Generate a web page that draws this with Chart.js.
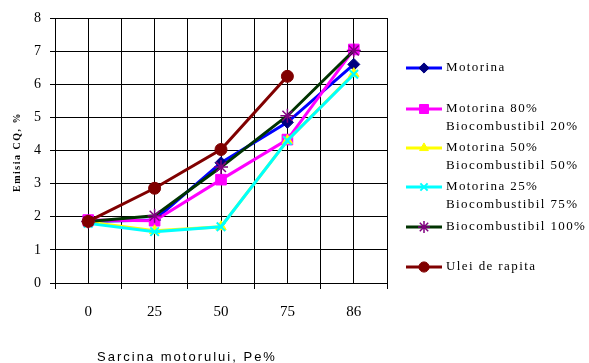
<!DOCTYPE html>
<html>
<head>
<meta charset="utf-8">
<script src="https://cdn.jsdelivr.net/npm/chart.js@4"></script>
<style>
    html, body { margin: 0; padding: 0; background: #ffffff; }
    #wrap { width: 589px; height: 363px; }
</style>
</head>
<body>
<div id="wrap"><canvas id="coChart" width="589" height="363"></canvas></div>
<script>
// Data
const categories = ['0', '25', '50', '75', '86'];
const motorina = [1.86, 1.9, 3.63, 4.85, 6.6];
const motorina80 = [1.9, 1.88, 3.12, 4.33, 7.05];
const motorina50 = [1.84, 1.58, 1.7, 4.3, 6.32];
const motorina25 = [1.8, 1.55, 1.7, 4.3, 6.3];
const bio100 = [1.86, 2.03, 3.5, 5.05, 7.02];
const uleiRapita = [1.86, 2.86, 4.03, 6.24, null];
const yTicks = [0, 1, 2, 3, 4, 5, 6, 7, 8];

const seriesNames = [
    ['Motorina'],
    ['Motorina 80%', 'Biocombustibil 20%'],
    ['Motorina 50%', 'Biocombustibil 50%'],
    ['Motorina 25%', 'Biocombustibil 75%'],
    ['Biocombustibil 100%'],
    ['Ulei de rapita']
];

function toPoints(values) {
    return values.map((v, i) => ({ x: i, y: v }));
}

const serifFont = '"Liberation Serif", "Times New Roman", serif';

// legend + axis titles drawn by hand (multi-line labels, Excel style)
const extraText = {
    id: 'extraText',
    afterDraw(chart) {
        const ctx = chart.ctx;
        const area = chart.chartArea;
        ctx.save();

        // y axis title
        ctx.fillStyle = '#000';
        ctx.font = 'bold 10px ' + serifFont;
        ctx.letterSpacing = '1.5px';
        ctx.textAlign = 'center';
        ctx.textBaseline = 'middle';
        ctx.translate(17, 152);
        ctx.rotate(-Math.PI / 2);
        ctx.fillText('Emisia CQ, %', 0, 0);
        ctx.setTransform(1, 0, 0, 1, 0, 0);

        // x axis title
        ctx.font = '13px "Liberation Sans", Arial, sans-serif';
        ctx.letterSpacing = '2px';
        ctx.fillText('Sarcina motorului, Pe%', 187, 357);

        // legend
        const legendY = [68, 109, 148, 187, 227, 267];
        ctx.font = '13px ' + serifFont;
        ctx.letterSpacing = '1.4px';
        ctx.textAlign = 'left';
        chart.data.datasets.forEach((ds, i) => {
            const y = legendY[i];
            ctx.strokeStyle = ds.borderColor;
            ctx.lineWidth = 3;
            ctx.beginPath();
            ctx.moveTo(406, y);
            ctx.lineTo(442, y);
            ctx.stroke();
            ctx.fillStyle = ds.pointBackgroundColor;
            ctx.strokeStyle = ds.pointBorderColor;
            ctx.lineWidth = ds.pointBorderWidth;
            Chart.helpers.drawPoint(ctx, {
                pointStyle: ds.pointStyle,
                radius: ds.pointRadius * 0.85,
                rotation: 0,
                borderWidth: ds.pointBorderWidth
            }, 424, y);
            ctx.fillStyle = '#000';
            seriesNames[i].forEach((line, j) => {
                ctx.fillText(line, 446, y + j * 18);
            });
        });
        ctx.restore();
    }
};

function makeSet(name, values, color, style, markerFill, markerBorder, radius, bw, order) {
    return {
        label: name,
        data: toPoints(values),
        borderColor: color,
        borderWidth: 3,
        pointStyle: style,
        pointRadius: radius,
        pointHoverRadius: radius,
        pointBackgroundColor: markerFill,
        pointBorderColor: markerBorder,
        pointBorderWidth: bw,
        spanGaps: false,
        tension: 0,
        order: order
    };
}

const datasets = [
    makeSet(seriesNames[0].join(' '), motorina, '#0000ff', 'rectRot', '#000080', '#000080', 6, 1, 6),
    makeSet(seriesNames[1].join(' '), motorina80, '#ff00ff', 'rect', '#ff00ff', '#ff00ff', 7.5, 1, 5),
    makeSet(seriesNames[2].join(' '), motorina50, '#ffff00', 'triangle', '#ffff00', '#ffff00', 6, 1, 4),
    makeSet(seriesNames[3].join(' '), motorina25, '#00ffff', 'crossRot', '#00ffff', '#00ffff', 6, 2, 3),
    makeSet(seriesNames[4].join(' '), bio100, '#003300', 'star', '#800080', '#800080', 7, 1.5, 2),
    makeSet(seriesNames[5].join(' '), uleiRapita, '#800000', 'circle', '#800000', '#800000', 6, 1, 1)
];

new Chart(document.getElementById('coChart'), {
    type: 'line',
    data: { datasets: datasets },
    options: {
        responsive: false,
        animation: false,
        events: [],
        layout: {
            padding: { top: 18, right: 202, bottom: 0, left: 0 }
        },
        plugins: {
            legend: { display: false },
            tooltip: { enabled: false }
        },
        scales: {
            x: {
                type: 'linear',
                min: -0.5,
                max: 4.5,
                afterFit(scale) { scale.height = 80; },
                afterBuildTicks(scale) {
                    const t = [];
                    for (let v = -0.5; v <= 4.5; v += 0.5) t.push({ value: v });
                    scale.ticks = t;
                },
                ticks: {
                    autoSkip: false,
                    maxRotation: 0,
                    padding: 14,
                    color: '#000',
                    font: { family: serifFont, size: 15 },
                    callback: (v) => Number.isInteger(v) ? categories[v] : ''
                },
                grid: {
                    color: '#000',
                    lineWidth: 1,
                    tickLength: 6,
                    tickColor: (c) => (c.tick && !Number.isInteger(c.tick.value)) ? '#000' : 'rgba(0,0,0,0)'
                },
                border: { color: '#000', width: 1 }
            },
            y: {
                min: 0,
                max: 8,
                afterFit(scale) { scale.width = 55; },
                afterBuildTicks(scale) {
                    scale.ticks = yTicks.map(v => ({ value: v }));
                },
                ticks: {
                    padding: 9,
                    color: '#000',
                    font: { family: serifFont, size: 14 }
                },
                grid: {
                    color: '#000',
                    lineWidth: 1,
                    tickLength: 5
                },
                border: { color: '#000', width: 1 }
            }
        }
    },
    plugins: [extraText]
});
</script>
</body>
</html>
